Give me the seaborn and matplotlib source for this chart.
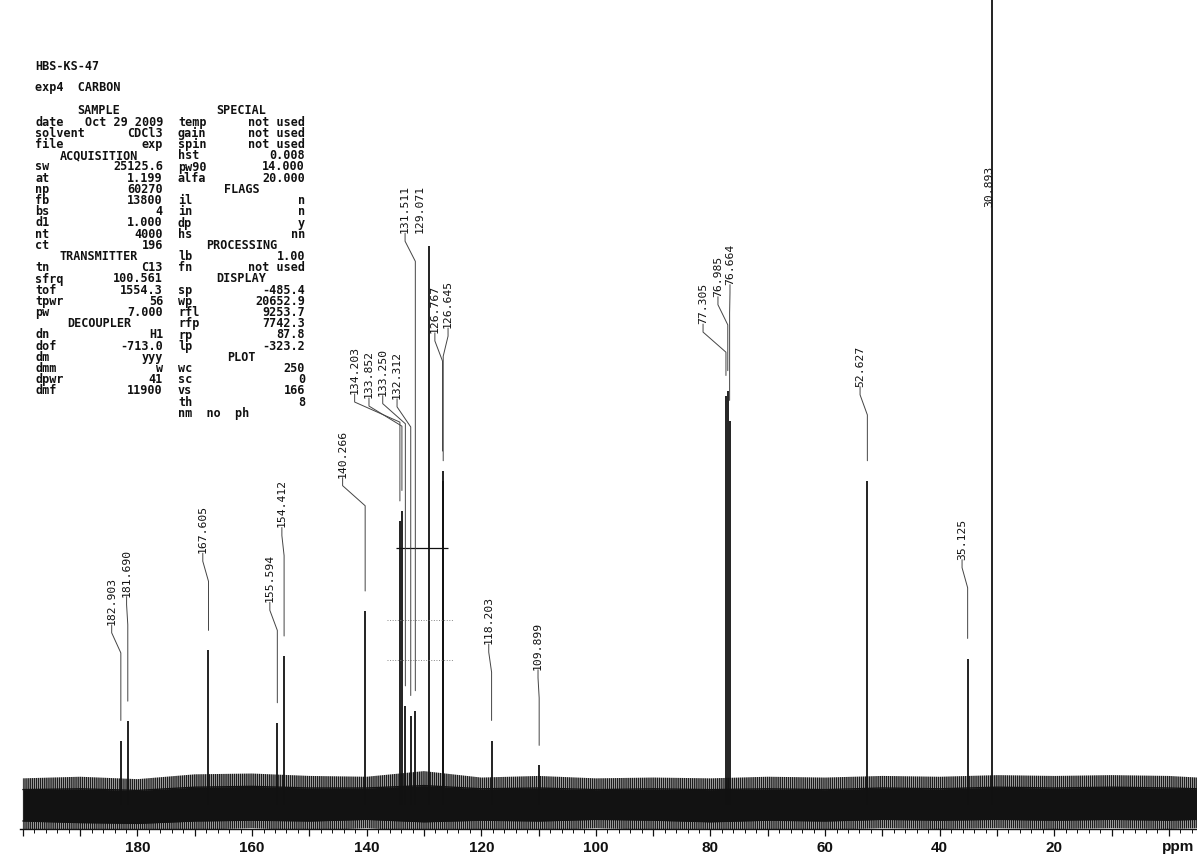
import numpy as np
import matplotlib
matplotlib.use("Agg")
import matplotlib.pyplot as plt
from matplotlib.ticker import MultipleLocator, FuncFormatter
import seaborn as sns

sns.set_theme(style="white")
plt.rcParams['font.family'] = ['DejaVu Sans Mono', 'DejaVu Sans']
plt.rcParams['hatch.linewidth'] = 1.1

# peaks: chemical shift (ppm) and height (% of full scale)
peak_ppm = [182.903, 181.690, 167.605, 155.594, 154.412, 140.266,
            134.203, 133.852, 133.250, 132.312, 131.511, 129.071,
            126.767, 126.645, 118.203, 109.899,
            77.305, 76.985, 76.664, 52.627, 35.125, 30.893]
peak_height = [8.0, 10.4, 19.2, 10.2, 18.5, 24.1,
               35.3, 36.6, 12.3, 11.1, 11.7, 69.5,
               41.5, 40.3, 8.0, 4.9,
               50.9, 51.5, 47.8, 40.3, 18.2, 110.0]

# where the printer put each shift label (x in ppm, bottom of text in %)
label_ppm = [184.5, 181.9, 168.6, 156.9, 154.8, 144.2,
             142.1, 139.6, 137.2, 134.7, 133.3, 130.7,
             128.1, 125.8, 118.7, 110.1,
             81.3, 78.7, 76.6, 53.9, 36.1, 31.4]
label_base = [22.4, 25.9, 31.3, 25.2, 34.5, 40.7,
              51.1, 50.6, 50.9, 50.5, 71.1, 71.1,
              58.7, 59.3, 20.0, 16.8,
              59.8, 63.2, 64.7, 52.0, 30.5, 74.4]

# baseline noise envelope (dense core and spike tips)
noise_ppm = [200, 190, 180, 170, 160, 150, 140, 130, 120, 110, 100,
             90, 80, 70, 60, 50, 40, 30, 20, 10, 0, -5]
noise_hi = [1.9, 2.0, 1.8, 2.2, 2.3, 2.1, 2.1, 2.4, 2.0, 2.1, 1.9,
            2.0, 1.9, 2.0, 1.9, 2.1, 2.0, 2.2, 2.1, 2.2, 2.1, 2.0]
noise_lo = [-2.0, -2.2, -2.3, -2.0, -1.9, -2.0, -1.8, -2.1, -1.9, -2.0, -1.8,
            -1.9, -2.1, -1.9, -2.0, -1.8, -1.9, -1.8, -1.9, -1.8, -1.9, -1.8]
spike_hi = [3.3, 3.5, 3.2, 3.8, 3.9, 3.6, 3.5, 4.2, 3.4, 3.6, 3.3,
            3.4, 3.3, 3.5, 3.4, 3.6, 3.5, 3.7, 3.6, 3.7, 3.6, 3.4]
spike_lo = [-3.2, -3.4, -3.7, -3.1, -2.9, -3.2, -2.9, -3.3, -3.1, -3.2, -2.9,
            -3.1, -3.3, -3.0, -3.1, -2.9, -3.0, -2.9, -3.0, -2.9, -3.0, -2.9]

axis_labels = [180, 160, 140, 120, 100, 80, 60, 40, 20]

title_lines = ["HBS-KS-47", "exp4  CARBON"]
left_col = [("SAMPLE", None), ("date", "Oct 29 2009"), ("solvent", "CDCl3"),
            ("file", "exp"), ("ACQUISITION", None), ("sw", "25125.6"),
            ("at", "1.199"), ("np", "60270"), ("fb", "13800"), ("bs", "4"),
            ("d1", "1.000"), ("nt", "4000"), ("ct", "196"),
            ("TRANSMITTER", None), ("tn", "C13"), ("sfrq", "100.561"),
            ("tof", "1554.3"), ("tpwr", "56"), ("pw", "7.000"),
            ("DECOUPLER", None), ("dn", "H1"), ("dof", "-713.0"),
            ("dm", "yyy"), ("dmm", "w"), ("dpwr", "41"), ("dmf", "11900")]
right_col = [("SPECIAL", None), ("temp", "not used"), ("gain", "not used"),
             ("spin", "not used"), ("hst", "0.008"), ("pw90", "14.000"),
             ("alfa", "20.000"), ("FLAGS", None), ("il", "n"), ("in", "n"),
             ("dp", "y"), ("hs", "nn"), ("PROCESSING", None), ("lb", "1.00"),
             ("fn", "not used"), ("DISPLAY", None), ("sp", "-485.4"),
             ("wp", "20652.9"), ("rfl", "9253.7"), ("rfp", "7742.3"),
             ("rp", "87.8"), ("lp", "-323.2"), ("PLOT", None), ("wc", "250"),
             ("sc", "0"), ("vs", "166"), ("th", "8"), ("nm  no  ph", "")]

W, H = 1197, 865
ink = "#111111"


def fx(px):
    return px / W


def fy(py):
    return 1 - py / H


fig = plt.figure(figsize=(W / 100, H / 100), dpi=100)
fig.patch.set_facecolor("white")
ax = fig.add_axes([fx(20), fy(829), 1 - fx(20), 829 / H])
ax.set_facecolor("none")

# noisy baseline: striped spike zone round a dense core
ax.fill_between(noise_ppm, spike_lo, spike_hi, facecolor="none",
                edgecolor="#1c1c1c", hatch="||||||||", lw=0)
ax.fill_between(noise_ppm, noise_lo, noise_hi, facecolor="#121212",
                edgecolor="#121212", lw=0)
sns.lineplot(x=noise_ppm, y=noise_hi, ax=ax, color="#121212", lw=1.0)
sns.lineplot(x=noise_ppm, y=noise_lo, ax=ax, color="#121212", lw=1.0)

# peaks
ax.vlines(peak_ppm, 0, peak_height, color=ink, lw=1.3)

# marker lines across the aromatic cluster
ax.hlines(32.0, 134.8, 125.8, color=ink, lw=0.9)
ax.hlines([23.0, 18.0], 136.5, 125.0, color="#888888", lw=0.7, linestyles=":")

# shift labels with leaders
for p, h, lx, lb in zip(peak_ppm, peak_height, label_ppm, label_base):
    ax.text(lx, lb, f"{p:.3f}", rotation=90, ha="center", va="bottom",
            fontsize=8.2, color=ink)
    if lb > h + 3:
        xs = [lx, lx, p, p]
        ys = [lb, lb - 1.0, lb - 3.5, h + 2.5]
        ax.plot(xs, ys, color="#444444", lw=0.7)

ax.set_xlim(200.5, -4.9)
ax.set_ylim(-3.0, 100.1)

for s in ["top", "left", "right"]:
    ax.spines[s].set_visible(False)
ax.spines["bottom"].set_color(ink)
ax.spines["bottom"].set_linewidth(1.0)
ax.set_yticks([])
ax.xaxis.set_major_locator(MultipleLocator(10))
ax.xaxis.set_minor_locator(MultipleLocator(2))
ax.xaxis.set_major_formatter(FuncFormatter(
    lambda v, pos: f"{int(round(v))}" if int(round(v)) in axis_labels else ""))
ax.tick_params(axis="x", which="major", direction="out", length=5, width=0.9,
               color=ink, pad=4, bottom=True)
ax.tick_params(axis="x", which="minor", direction="out", length=3, width=0.7,
               color=ink, bottom=True)
for t in ax.get_xticklabels():
    t.set_fontfamily(["Liberation Sans", "DejaVu Sans"])
    t.set_fontweight("bold")
    t.set_fontsize(11)
    t.set_color(ink)
fig.text(fx(1178), fy(847), "ppm", ha="center", va="center",
         family=["Liberation Sans", "DejaVu Sans"], fontweight="bold",
         fontsize=11, color=ink)

# acquisition parameter block
fig.text(fx(35), fy(66), title_lines[0], ha="left", va="center",
         fontsize=8.5, fontweight="bold", color=ink)
fig.text(fx(35), fy(88), title_lines[1], ha="left", va="center",
         fontsize=8.5, fontweight="bold", color=ink)

row_gap = 11.2
for col, x0, x1 in [(left_col, 35, 163), (right_col, 178, 305)]:
    for i, (key, val) in enumerate(col):
        y = fy(111 + i * row_gap)
        if val is None:
            fig.text(fx((x0 + x1) / 2), y, key, ha="center", va="center",
                     fontsize=8.5, fontweight="bold", color=ink)
        else:
            fig.text(fx(x0), y, key, ha="left", va="center",
                     fontsize=8.5, fontweight="bold", color=ink)
            if val:
                fig.text(fx(x1), y, val, ha="right", va="center",
                         fontsize=8.5, fontweight="bold", color=ink)

fig.savefig("out.png", dpi=100, facecolor="white")
